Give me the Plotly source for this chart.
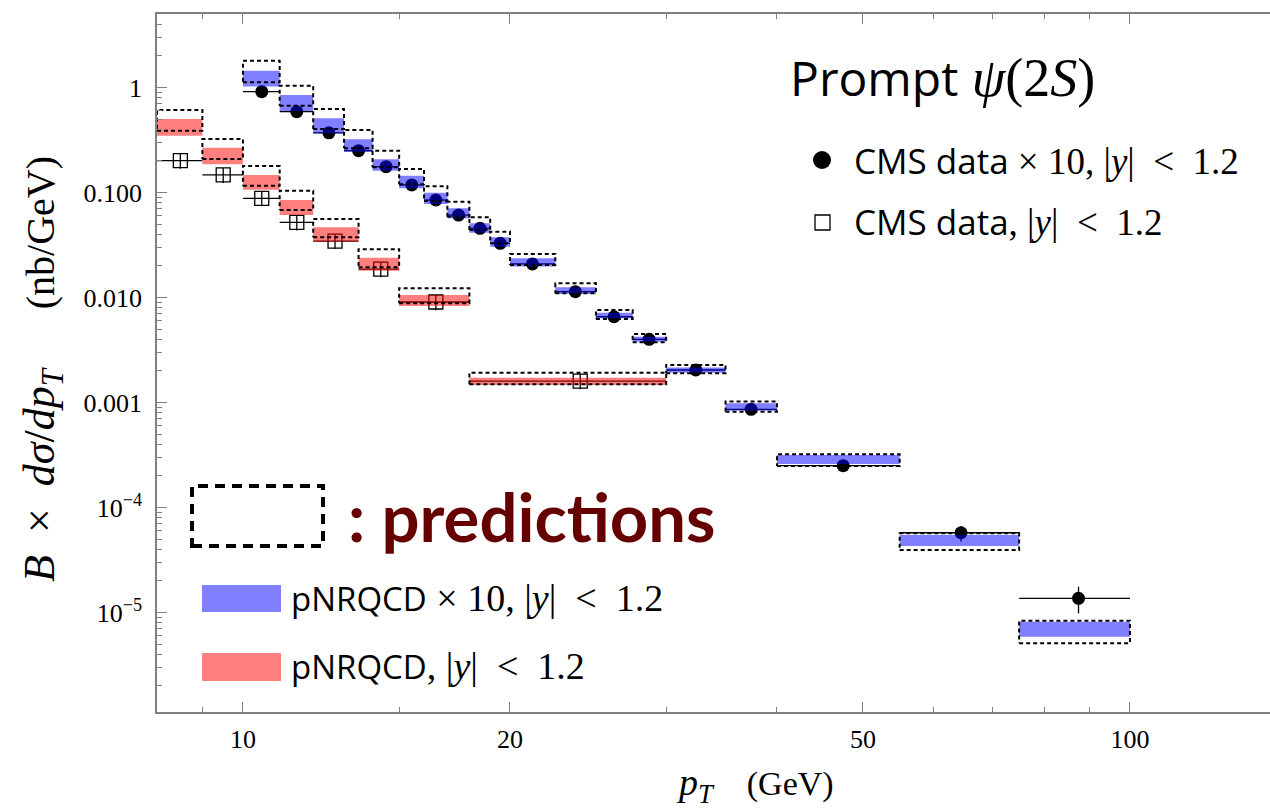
import plotly.graph_objects as go

# ---------------- data ----------------
# pNRQCD x10 (blue), |y|<1.2
blue_lo = [10, 11, 12, 13, 14, 15, 16, 17, 18, 19, 20, 22.5, 25, 27.5, 30, 35, 40, 55, 75]
blue_hi = [11, 12, 13, 14, 15, 16, 17, 18, 19, 20, 22.5, 25, 27.5, 30, 35, 40, 55, 75, 100]
blue_band_lo = [1.02, 0.598, 0.366, 0.245, 0.161, 0.110, 0.0777, 0.0568, 0.0414, 0.0305, 0.0197,
                0.0108, 0.00634, 0.00379, 0.00192, 0.000836, 0.00026, 4.3e-5, 5.89e-6]
blue_band_hi = [1.44, 0.848, 0.509, 0.321, 0.207, 0.144, 0.0995, 0.0708, 0.0509, 0.0374, 0.0236,
                0.0125, 0.00716, 0.00424, 0.00216, 0.000982, 0.000316, 5.47e-5, 8.17e-6]
blue_pred_lo = [1.12, 0.671, 0.402, 0.264, 0.174, 0.120, 0.083, 0.0588, 0.0439, 0.0328, 0.0204,
                0.01096, 0.00624, 0.00374, 0.0019, 0.000817, 0.000248, 3.94e-5, 5.09e-6]
blue_pred_hi = [1.80, 1.04, 0.624, 0.394, 0.250, 0.167, 0.115, 0.0817, 0.058, 0.0423, 0.026,
                0.01365, 0.0076, 0.00449, 0.00228, 0.00102, 0.000321, 5.68e-5, 8.36e-6]
# CMS data x10 (filled dots)
cms10_pt = [10.5, 11.5, 12.5, 13.5, 14.5, 15.5, 16.5, 17.5, 18.5, 19.5, 21.2, 23.7, 26.2, 28.7,
            32.4, 37.4, 47.5, 64.5, 87.5]
cms10_val = [0.912, 0.588, 0.37, 0.25, 0.176, 0.118, 0.0848, 0.061, 0.0456, 0.0328, 0.0209,
             0.01136, 0.00656, 0.0040, 0.00204, 0.000861, 0.00025, 5.75e-5, 1.365e-5]
cms10_err_up = [0.03, 0.02, 0.012, 0.008, 0.006, 0.004, 0.003, 0.002, 0.0015, 0.0011, 0.0007,
                0.0004, 0.00022, 0.00014, 0.00007, 0.00003, 0.00001, 0.92e-5, 0.395e-5]
cms10_err_dn = [0.03, 0.02, 0.012, 0.008, 0.006, 0.004, 0.003, 0.002, 0.0015, 0.0011, 0.0007,
                0.0004, 0.00022, 0.00014, 0.00007, 0.00003, 0.00001, 1.03e-5, 0.383e-5]

# pNRQCD (red), |y|<1.2
red_lo = [8, 9, 10, 11, 12, 13.5, 15, 18]
red_hi = [9, 10, 11, 12, 13.5, 15, 18, 30]
red_band_lo = [0.347, 0.186, 0.106, 0.061, 0.034, 0.018, 0.0083, 0.00147]
red_band_hi = [0.501, 0.267, 0.147, 0.0848, 0.0467, 0.0239, 0.01056, 0.00172]
red_pred_lo = [0.388, 0.209, 0.116, 0.068, 0.0374, 0.0194, 0.00881, 0.00149]
red_pred_hi = [0.61, 0.323, 0.179, 0.104, 0.056, 0.0288, 0.01224, 0.00192]
# CMS data (open squares)
cms_pt = [8.5, 9.5, 10.5, 11.5, 12.7, 14.3, 16.5, 24.0]
cms_val = [0.201, 0.147, 0.088, 0.052, 0.0345, 0.0186, 0.00906, 0.0016]
cms_err = [0.033, 0.024, 0.014, 0.0085, 0.0056, 0.003, 0.0015, 0.00026]

# axis ticks
x_tickvals = [10, 20, 50, 100]
x_ticktext = ["10", "20", "50", "100"]
x_minor = [9, 15, 30, 40, 60, 70, 80, 90]
y_tickvals = [1e-5, 1e-4, 1e-3, 1e-2, 1e-1, 1]
y_ticktext = ["10<sup>\u22125</sup>", "10<sup>\u22124</sup>", "0.001", "0.010", "0.100", "1"]
y_minor = [m * 10.0 ** e for e in range(-6, 1) for m in range(2, 10)]

# ---------------- layout helpers ----------------
W, H = 1270, 812
L, R, T, B = 157, 0, 14, 100
PW, PH = W - L - R, H - T - B


def px(x):
    return (x - L) / PW


def py(y):
    return (H - B - y) / PH


def rects(lo, hi, ylo, yhi):
    xs, ys = [], []
    for a, b, c, d in zip(lo, hi, ylo, yhi):
        xs += [a, b, b, a, a, None]
        ys += [c, c, d, d, c, None]
    return xs, ys


SERIF = "Liberation Serif"
SANS = "Open Sans"
NB = "&#160;"

fig = go.Figure()

# data points (below the bands)
fig.add_trace(go.Scatter(
    x=cms10_pt, y=cms10_val, mode="markers",
    marker=dict(symbol="circle", size=13, color="black"),
    error_x=dict(type="data", symmetric=False,
                 array=[h - x for h, x in zip(blue_hi, cms10_pt)],
                 arrayminus=[x - l for l, x in zip(blue_lo, cms10_pt)],
                 color="black", thickness=1.3, width=0),
    error_y=dict(type="data", symmetric=False, array=cms10_err_up, arrayminus=cms10_err_dn,
                 color="black", thickness=1.3, width=0),
    showlegend=False, hoverinfo="skip"))
fig.add_trace(go.Scatter(
    x=cms_pt, y=cms_val, mode="markers",
    marker=dict(symbol="square-open", size=14, color="black", line=dict(width=1.3, color="black")),
    error_x=dict(type="data", symmetric=False,
                 array=[h - x for h, x in zip(red_hi, cms_pt)],
                 arrayminus=[x - l for l, x in zip(red_lo, cms_pt)],
                 color="black", thickness=1.3, width=0),
    error_y=dict(type="data", array=cms_err, color="black", thickness=1.3, width=0),
    showlegend=False, hoverinfo="skip"))

# bands
for lo, hi, blo, bhi, col in [
        (blue_lo, blue_hi, blue_band_lo, blue_band_hi, "rgba(0,0,255,0.5)"),
        (red_lo, red_hi, red_band_lo, red_band_hi, "rgba(255,0,0,0.5)")]:
    xs, ys = rects(lo, hi, blo, bhi)
    fig.add_trace(go.Scatter(x=xs, y=ys, mode="lines", fill="toself", fillcolor=col,
                             line=dict(width=0, color="rgba(0,0,0,0)"),
                             showlegend=False, hoverinfo="skip"))

# prediction dashed boxes
for lo, hi, plo, phi in [(blue_lo, blue_hi, blue_pred_lo, blue_pred_hi),
                         (red_lo, red_hi, red_pred_lo, red_pred_hi)]:
    xs, ys = rects(lo, hi, plo, phi)
    fig.add_trace(go.Scatter(x=xs, y=ys, mode="lines",
                             line=dict(width=2, color="black", dash="4px,3px"),
                             showlegend=False, hoverinfo="skip"))

axis_common = dict(showline=True, linecolor="#808080", linewidth=1.5,
                   ticks="inside", tickcolor="#808080", tickwidth=1.2, showgrid=False,
                   zeroline=False, tickfont=dict(family=SERIF, size=26, color="black"))

fig.update_xaxes(type="log", range=[0.90309, 0.90309 + PW / 887.0],
                 tickvals=x_tickvals, ticktext=x_ticktext, ticklen=10, mirror="ticks",
                 ticklabelstandoff=3,
                 minor=dict(tickvals=x_minor, ticks="inside", ticklen=5, tickcolor="#808080",
                            tickwidth=1.0, showgrid=False),
                 **axis_common)
fig.update_yaxes(type="log", range=[0.70 - PH / 105.0, 0.70],
                 tickvals=y_tickvals, ticktext=y_ticktext, ticklen=10, mirror=False,
                 ticklabelstandoff=8,
                 minor=dict(tickvals=y_minor, ticks="inside", ticklen=5, tickcolor="#808080",
                            tickwidth=1.0, showgrid=False),
                 **axis_common)

shapes = [
    # predictions legend box
    dict(type="rect", xref="paper", yref="paper", x0=px(192), x1=px(323), y0=py(546), y1=py(486),
         line=dict(color="black", width=4, dash="10px,7px")),
    dict(type="rect", xref="paper", yref="paper", x0=px(202), x1=px(281), y0=py(612), y1=py(585),
         fillcolor="rgba(0,0,255,0.5)", line=dict(width=0)),
    dict(type="rect", xref="paper", yref="paper", x0=px(202), x1=px(281), y0=py(681), y1=py(653),
         fillcolor="rgba(255,0,0,0.5)", line=dict(width=0)),
    dict(type="circle", xref="paper", yref="paper", x0=px(813), x1=px(831), y0=py(169), y1=py(151),
         fillcolor="black", line=dict(width=0)),
    dict(type="rect", xref="paper", yref="paper", x0=px(815), x1=px(830), y0=py(230), y1=py(215),
         line=dict(color="black", width=1.3)),
]


def sans(t, size):
    return "<span style=\"font-family:'%s';font-size:%dpx\">%s</span>" % (SANS, size, t)


MATH10 = NB + "\u00d7" + NB + "10," + NB + "|<i>y</i>|" + NB * 2 + "&lt;" + NB * 2 + "1.2"
MATH = "," + NB + "|<i>y</i>|" + NB * 2 + "&lt;" + NB * 2 + "1.2"

ann = [
    dict(x=px(788), y=py(77), text=sans("Prompt", 48) + NB + "<i>\u03c8</i>(2<i>S</i>)",
         font=dict(family=SERIF, size=54, color="black")),
    dict(x=px(852), y=py(160), text=sans("CMS data", 35) + MATH10,
         font=dict(family=SERIF, size=37, color="black")),
    dict(x=px(852), y=py(222), text=sans("CMS data", 35) + MATH,
         font=dict(family=SERIF, size=37, color="black")),
    dict(x=px(346), y=py(516), text="<b>: predictions</b>",
         font=dict(family="Lato", size=67, color="#660000")),
    dict(x=px(289), y=py(598), text=sans("pNRQCD", 33) + MATH10,
         font=dict(family=SERIF, size=38, color="black")),
    dict(x=px(289), y=py(666), text=sans("pNRQCD", 33) + MATH,
         font=dict(family=SERIF, size=38, color="black")),
]
for a in ann:
    a.update(xref="paper", yref="paper", xanchor="left", yanchor="middle", showarrow=False)

# axis titles
ytitle = ("<span style='font-size:44px'><i>B</i>" + NB * 2 + "\u00d7" + NB * 2
          + "<i>d\u03c3</i>/<i>dp<sub>T</sub></i></span>" + NB * 6 + "(nb/GeV)")
ann.append(dict(x=px(42), y=py(369), xref="paper", yref="paper", showarrow=False, textangle=-90,
                xanchor="center", yanchor="middle", text=ytitle,
                font=dict(family=SERIF, size=40, color="black")))
xtitle = "<span style='font-size:38px'><i>p<sub>T</sub></i></span>" + NB * 4 + "(GeV)"
ann.append(dict(x=px(755), y=py(785), xref="paper", yref="paper", showarrow=False,
                xanchor="center", yanchor="middle", text=xtitle,
                font=dict(family=SERIF, size=34, color="black")))

fig.update_layout(width=W, height=H, margin=dict(l=L, r=R, t=T, b=B, pad=0),
                  plot_bgcolor="white", paper_bgcolor="white",
                  shapes=shapes, annotations=ann, showlegend=False)

fig.write_html("out.html")
